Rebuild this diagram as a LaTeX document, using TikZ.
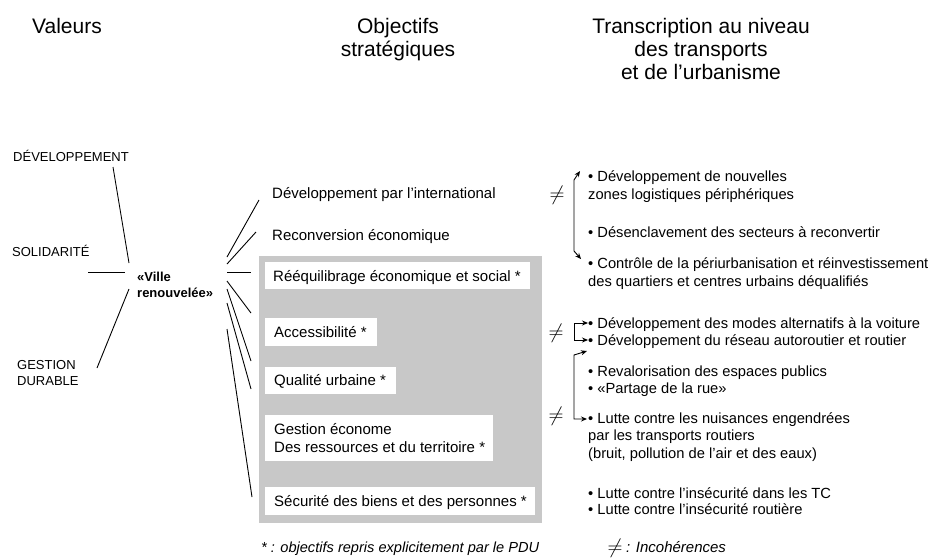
\documentclass[tikz,border=0pt]{standalone}
\usepackage{fontspec}
\setmainfont{Liberation Sans}
\usetikzlibrary{arrows.meta}
\definecolor{panelgray}{RGB}{200,200,200}
\begin{document}
\begin{tikzpicture}[x=1pt,y=-1pt,
  title/.style={anchor=base, inner sep=0pt, font=\fontsize{21}{24}\selectfont},
  txt/.style={anchor=base west, inner sep=0pt, font=\fontsize{15}{18}\selectfont},
  rtxt/.style={anchor=base west, inner sep=0pt, font=\fontsize{14.7}{18}\selectfont},
  ftxt/.style={anchor=base west, inner sep=0pt, font=\fontsize{14.6}{18}\selectfont\itshape},
  val/.style={anchor=base west, inner sep=0pt, font=\fontsize{13}{16}\selectfont},
  wbox/.style={anchor=north west, fill=white, inner sep=0pt},
  neq/.style={inner sep=0pt, font=\fontsize{20}{20}\selectfont},
  fan/.style={line width=0.9pt},
  arr/.style={line width=0.9pt, {Stealth[length=6pt,width=5pt]}-{Stealth[length=6pt,width=5pt]}}
]
\useasboundingbox (0,0) rectangle (934,558);

% titles
\node[title, anchor=base west] (tv) at (32,33) {Valeurs};
\node[title] (to1) at (398,33) {Objectifs};
\node[title] (to2) at (398,56) {stratégiques};
\node[title] (tt1) at (701,33) {Transcription au niveau};
\node[title] (tt2) at (701,56) {des transports};
\node[title] (tt3) at (701,79) {et de l’urbanisme};

% values
\node[val] (dev) at (13,161) {DÉVELOPPEMENT};
\node[val] (sol) at (12,256) {SOLIDARITÉ};
\node[val] (ges1) at (17,369) {GESTION};
\node[val] (ges2) at (17,385) {DURABLE};
\node[val, font=\fontsize{13}{16}\selectfont\bfseries] (vil1) at (137,281) {«Ville};
\node[val, font=\fontsize{13}{16}\selectfont\bfseries] (vil2) at (137,297) {renouvelée»};

% left connectors
\coordinate (l1a) at (113,167); \coordinate (l1b) at (129,263);
\coordinate (l2a) at (88,272);  \coordinate (l2b) at (125,272);
\coordinate (l3a) at (129,289); \coordinate (l3b) at (97,368);
\draw[fan] (l1a) -- (l1b);
\draw[fan] (l2a) -- (l2b);
\draw[fan] (l3a) -- (l3b);

% panel and white boxes
\node[fill=panelgray, anchor=north west, inner sep=0pt, minimum width=283pt, minimum height=267pt] (panel) at (259,256) {};
\node[wbox, minimum width=265pt, minimum height=27pt] (b3) at (265,262) {};
\node[wbox, minimum width=112pt, minimum height=28pt] (b4) at (265,318) {};
\node[wbox, minimum width=131pt, minimum height=27pt] (b5) at (265,367) {};
\node[wbox, minimum width=228pt, minimum height=46pt] (b6) at (265,415) {};
\node[wbox, minimum width=270pt, minimum height=28pt] (b7) at (265,487) {};

% objectives
\node[txt] (o1) at (272,198) {Développement par l’international};
\node[txt] (o2) at (272,240) {Reconversion économique};
\node[txt] (o3) at (273,281) {Rééquilibrage économique et social *};
\node[txt] (o4) at (274,337) {Accessibilité *};
\node[txt] (o5) at (274,385) {Qualité urbaine *};
\node[txt] (o6a) at (274,434) {Gestion économe};
\node[txt] (o6b) at (274,452) {Des ressources et du territoire *};
\node[txt] (o7) at (274,506) {Sécurité des biens et des personnes *};

% right fan
\coordinate (f1a) at (227,257); \coordinate (f1b) at (259,200);
\coordinate (f2a) at (227,264); \coordinate (f2b) at (256,232);
\coordinate (f3a) at (227,272); \coordinate (f3b) at (251,272);
\coordinate (f4a) at (227,281); \coordinate (f4b) at (251,313);
\coordinate (f5a) at (227,289); \coordinate (f5b) at (251,361);
\coordinate (f6a) at (227,303); \coordinate (f6b) at (251,389);
\coordinate (f7a) at (227,329); \coordinate (f7b) at (252,497);
\foreach \i in {1,...,7} { \draw[fan] (f\i a) -- (f\i b); }

% transcription
\node[rtxt] (r1a) at (588,181) {• Développement de nouvelles};
\node[rtxt] (r1b) at (588,199) {zones logistiques périphériques};
\node[rtxt] (r2) at (588,237) {• Désenclavement des secteurs à reconvertir};
\node[rtxt] (r3a) at (588,268) {• Contrôle de la périurbanisation et réinvestissement};
\node[rtxt] (r3b) at (588,286) {des quartiers et centres urbains déqualifiés};
\node[rtxt] (r4) at (588,328) {• Développement des modes alternatifs à la voiture};
\node[rtxt] (r5) at (588,345) {• Développement du réseau autoroutier et routier};
\node[rtxt] (r6a) at (588,376) {• Revalorisation des espaces publics};
\node[rtxt] (r6b) at (588,393) {• «Partage de la rue»};
\node[rtxt] (r7a) at (588,423) {• Lutte contre les nuisances engendrées};
\node[rtxt] (r7b) at (588,440) {par les transports routiers};
\node[rtxt] (r7c) at (588,458) {(bruit, pollution de l’air et des eaux)};
\node[rtxt] (r8a) at (588,498) {• Lutte contre l’insécurité dans les TC};
\node[rtxt] (r8b) at (588,514) {• Lutte contre l’insécurité routière};

% incoherence marks
\node[neq] (n1) at (557,195) {$\neq$};
\node[neq] (n2) at (556,333) {$\neq$};
\node[neq] (n3) at (556,416) {$\neq$};

% arrows
\coordinate (a1t) at (580,171); \coordinate (a1u) at (574,180);
\coordinate (a1l) at (574,251); \coordinate (a1b) at (581,259);
\draw[arr] (a1t) -- (a1u) -- (a1l) -- (a1b);
\coordinate (a2t) at (588,323); \coordinate (a2u) at (574,323);
\coordinate (a2l) at (574,340); \coordinate (a2b) at (588,340);
\draw[arr] (a2t) -- (a2u) -- (a2l) -- (a2b);
\coordinate (a3t) at (587,351); \coordinate (a3u) at (574,355);
\coordinate (a3l) at (574,419); \coordinate (a3b) at (587,419);
\draw[arr] (a3t) -- (a3u) -- (a3l) -- (a3b);

% footer
\node[ftxt] (foot1) at (261,552) {* : objectifs repris explicitement par le PDU};
\node[neq] (n4) at (615,548) {$\neq$};
\node[ftxt, font=\fontsize{15}{18}\selectfont\itshape] (foot2) at (626,552) {: Incohérences};
\end{tikzpicture}
\end{document}
